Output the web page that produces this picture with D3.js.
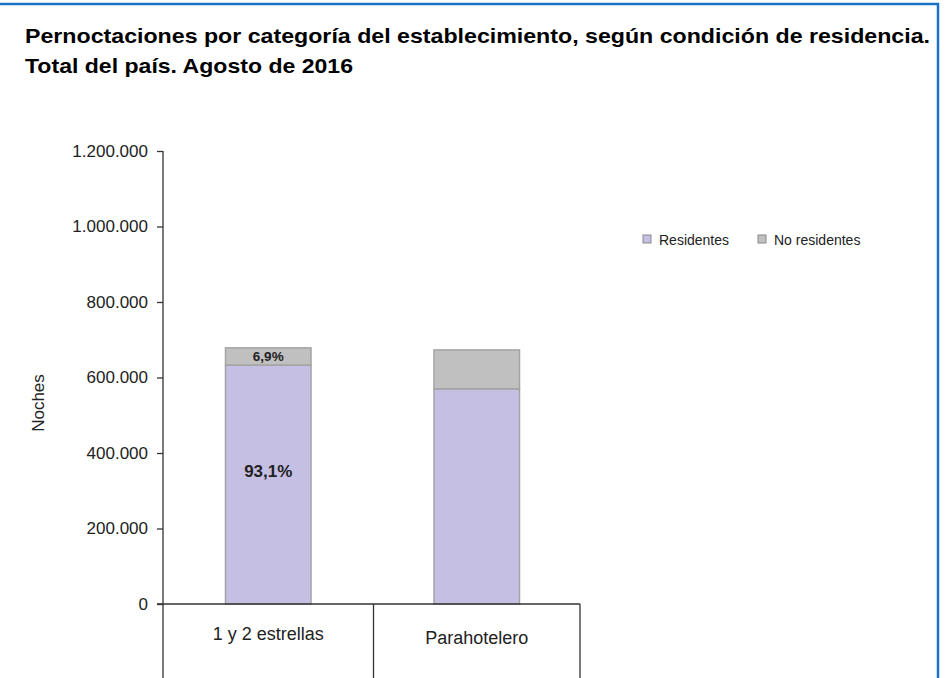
<!DOCTYPE html>
<html>
<head>
<meta charset="utf-8">
<script src="https://cdn.jsdelivr.net/npm/d3@7"></script>
<style>
  body { margin: 0; background: #fff; }
  svg { display: block; }
  text { font-family: "Liberation Sans", Arial, sans-serif; }
</style>
</head>
<body>
<svg id="chart"></svg>
<script>
// data
const categorias = ["1 y 2 estrellas", "Parahotelero"];
const residentes = [633000, 570000];
const noResidentes = [45500, 103000];
const series = ["Residentes", "No residentes"];
const colores = ["#c6bfe4", "#c0c0c0"];
const yTicks = [0, 200000, 400000, 600000, 800000, 1000000, 1200000];
const etiquetas = [["93,1%", "6,9%"], [null, null]];

const W = 951, H = 678;
const svg = d3.select("#chart").attr("width", W).attr("height", H);

// frame: top and right blue lines
svg.append("line").attr("x1", 0).attr("x2", 939).attr("y1", 4).attr("y2", 4)
  .attr("stroke", "#1a72c4").attr("stroke-width", 2.5);
svg.append("line").attr("x1", 938).attr("x2", 938).attr("y1", 3).attr("y2", H)
  .attr("stroke", "#1a72c4").attr("stroke-width", 2.5);

// title (slightly wide, like the original)
svg.append("text").attr("x", 25).attr("y", 43)
  .attr("font-size", 21).attr("font-weight", "bold").attr("fill", "#000")
  .attr("textLength", 905).attr("lengthAdjust", "spacingAndGlyphs")
  .text("Pernoctaciones por categoría del establecimiento, según condición de residencia.");
svg.append("text").attr("x", 25).attr("y", 73)
  .attr("font-size", 21).attr("font-weight", "bold").attr("fill", "#000")
  .attr("textLength", 328).attr("lengthAdjust", "spacingAndGlyphs")
  .text("Total del país. Agosto de 2016");

const x0 = 163, x1 = 580, yBase = 604, yTop = 151;

const x = d3.scaleBand().domain(categorias).range([x0, x1])
  .paddingInner(0.59).paddingOuter(0.295);
const y = d3.scaleLinear().domain([0, 1200000]).range([yBase, yTop]);

const datos = categorias.map((c, i) => ({ cat: c, Residentes: residentes[i], "No residentes": noResidentes[i] }));
const stack = d3.stack().keys(series)(datos);

const g = svg.append("g");
g.selectAll("g.serie")
  .data(stack)
  .enter().append("g")
    .attr("class", "serie")
    .attr("fill", (d, i) => colores[i])
  .selectAll("rect")
  .data(d => d)
  .enter().append("rect")
    .attr("x", d => x(d.data.cat) + 1)
    .attr("width", x.bandwidth())
    .attr("y", d => y(d[1]))
    .attr("height", d => y(d[0]) - y(d[1]))
    .attr("stroke", "#a3a3a3")
    .attr("stroke-width", 1.5);

// percentage labels
stack.forEach((s, si) => {
  s.forEach((d, ci) => {
    const lab = etiquetas[ci][si];
    if (!lab) return;
    const big = si === 0;
    g.append("text")
      .attr("x", x(d.data.cat) + x.bandwidth() / 2 + 1)
      .attr("y", big ? y(d[1]) + 112 : (y(d[0]) + y(d[1])) / 2 + 5)
      .attr("text-anchor", "middle")
      .attr("font-family", "'Open Sans', sans-serif")
      .attr("font-weight", "bold")
      .attr("font-size", big ? 17 : 13.5)
      .attr("fill", "#222")
      .text(lab);
  });
});

// y axis
const yAxis = svg.append("g")
  .attr("transform", `translate(${x0},0)`)
  .call(d3.axisLeft(y).tickValues(yTicks).tickSize(6).tickPadding(9)
    .tickFormat(d => d3.format(",")(d).replace(/,/g, ".")));
yAxis.select(".domain").remove();
yAxis.selectAll("line").attr("stroke", "#333").attr("stroke-width", 1.3);
yAxis.selectAll("text").attr("font-size", 17).attr("fill", "#222")
  .attr("font-family", "'Liberation Sans', Arial, sans-serif");

// axis lines
svg.append("line").attr("x1", x0).attr("x2", x0).attr("y1", yTop).attr("y2", H)
  .attr("stroke", "#333").attr("stroke-width", 1.3);
svg.append("line").attr("x1", x0 - 6).attr("x2", x1).attr("y1", yBase).attr("y2", yBase)
  .attr("stroke", "#333").attr("stroke-width", 1.3);

// category dividers and labels
const step = x.step();
const bordes = categorias.map((c, i) => x0 + step * (i + 1) + (i === 0 ? 2 : 0));
svg.selectAll("line.div").data(bordes).enter().append("line")
  .attr("class", "div")
  .attr("x1", d => d).attr("x2", d => d)
  .attr("y1", yBase).attr("y2", H)
  .attr("stroke", "#333").attr("stroke-width", 1.3);
svg.selectAll("text.cat").data(categorias).enter().append("text")
  .attr("class", "cat")
  .attr("x", d => x(d) + x.bandwidth() / 2 + 1)
  .attr("y", (d, i) => 640 + i * 4)
  .attr("text-anchor", "middle")
  .attr("font-size", 18).attr("fill", "#222")
  .text(d => d);

// y title
svg.append("text")
  .attr("transform", "translate(44,403) rotate(-90)")
  .attr("text-anchor", "middle")
  .attr("font-size", 17).attr("fill", "#222")
  .text("Noches");

// legend
const legX = [643, 758];
const leg = svg.selectAll("g.leg").data(series).enter().append("g")
  .attr("class", "leg")
  .attr("transform", (d, i) => `translate(${legX[i]},235)`);
leg.append("rect").attr("width", 8).attr("height", 8)
  .attr("fill", (d, i) => colores[i]).attr("stroke", "#8a8a8a").attr("stroke-width", 1);
leg.append("text").attr("x", 16).attr("y", 9.5)
  .attr("font-size", 14).attr("fill", "#222")
  .text(d => d);
</script>
</body>
</html>
